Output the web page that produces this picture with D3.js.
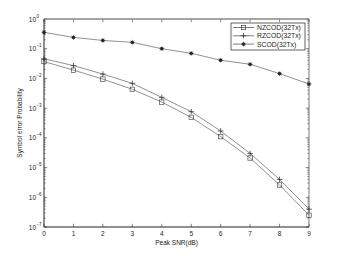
<!DOCTYPE html>
<html>
<head>
<meta charset="utf-8">
<script src="https://cdn.jsdelivr.net/npm/d3@7"></script>
<style>
  body { margin: 0; background: #fff; }
  text { font-family: "Liberation Sans", Arial, sans-serif; fill: #222; }
</style>
</head>
<body>
<div id="chart"></div>
<script>
// data
const snr = [0, 1, 2, 3, 4, 5, 6, 7, 8, 9];
const nzcod = [0.037, 0.019, 0.0095, 0.0043, 0.0016, 4.9e-4, 1.1e-4, 2.1e-5, 2.6e-6, 2.5e-7];
const rzcod = [0.046, 0.027, 0.014, 0.0068, 0.0023, 7.6e-4, 1.7e-4, 3.0e-5, 4.0e-6, 4.0e-7];
const scod  = [0.355, 0.24, 0.19, 0.164, 0.10, 0.07, 0.041, 0.030, 0.0145, 0.0065];
const seriesNames = ['NZCOD(32Tx)', 'RZCOD(32Tx)', 'SCOD(32Tx)'];
const yExps = [0, -1, -2, -3, -4, -5, -6, -7];

const width = 341, height = 256;
const margin = { top: 19, right: 32, bottom: 29, left: 44 };
const iw = width - margin.left - margin.right;
const ih = height - margin.top - margin.bottom;

const svg = d3.select('#chart').append('svg')
  .attr('width', width).attr('height', height);
const g = svg.append('g').attr('transform', `translate(${margin.left},${margin.top})`);

const x = d3.scaleLinear().domain([0, 9]).range([0, iw]);
const y = d3.scaleLog().domain([1e-7, 1]).range([ih, 0]);

// minor ticks on log axis (both sides)
const minor = [];
for (let e = -7; e < 0; e++) for (let k = 2; k <= 9; k++) minor.push(k * Math.pow(10, e));
g.selectAll('line.minorL').data(minor).join('line')
  .attr('x1', 0).attr('x2', 1.8).attr('y1', d => y(d)).attr('y2', d => y(d))
  .attr('stroke', '#444').attr('stroke-width', 0.5);
g.selectAll('line.minorR').data(minor).join('line')
  .attr('x1', iw).attr('x2', iw - 1.8).attr('y1', d => y(d)).attr('y2', d => y(d))
  .attr('stroke', '#444').attr('stroke-width', 0.5);

// major ticks
const yMaj = yExps.map(e => Math.pow(10, e));
g.selectAll('line.majL').data(yMaj).join('line')
  .attr('x1', 0).attr('x2', 3.2).attr('y1', d => y(d)).attr('y2', d => y(d))
  .attr('stroke', '#333').attr('stroke-width', 0.6);
g.selectAll('line.majR').data(yMaj).join('line')
  .attr('x1', iw).attr('x2', iw - 3.2).attr('y1', d => y(d)).attr('y2', d => y(d))
  .attr('stroke', '#333').attr('stroke-width', 0.6);
g.selectAll('line.xB').data(snr).join('line')
  .attr('x1', d => x(d)).attr('x2', d => x(d)).attr('y1', ih).attr('y2', ih - 3.2)
  .attr('stroke', '#333').attr('stroke-width', 0.6);
g.selectAll('line.xT').data(snr).join('line')
  .attr('x1', d => x(d)).attr('x2', d => x(d)).attr('y1', 0).attr('y2', 3.2)
  .attr('stroke', '#333').attr('stroke-width', 0.6);

// frame
g.append('line').attr('x1', 0).attr('x2', iw).attr('y1', 0).attr('y2', 0)
  .attr('stroke', '#888').attr('stroke-width', 1.6);
g.append('line').attr('x1', 0).attr('x2', iw).attr('y1', ih).attr('y2', ih)
  .attr('stroke', '#222').attr('stroke-width', 1);
g.append('line').attr('x1', 0).attr('x2', 0).attr('y1', 0).attr('y2', ih)
  .attr('stroke', '#222').attr('stroke-width', 1);
g.append('line').attr('x1', iw).attr('x2', iw).attr('y1', 0).attr('y2', ih)
  .attr('stroke', '#555').attr('stroke-width', 0.8);

// tick labels
g.selectAll('text.xl').data(snr).join('text')
  .attr('x', d => x(d)).attr('y', ih + 9)
  .attr('text-anchor', 'middle').attr('font-size', 6.5).text(d => d);

const yl = g.selectAll('g.yl').data(yExps).join('g')
  .attr('transform', d => `translate(-4,${y(Math.pow(10, d))})`);
yl.append('text').attr('x', -4).attr('y', 2.5).attr('text-anchor', 'end')
  .attr('font-size', 6.5).text('10');
yl.append('text').attr('x', -3.6).attr('y', -1.5).attr('text-anchor', 'start')
  .attr('font-size', 4.5).text(d => d === 0 ? '0' : '\u2212' + (-d));

// axis titles
g.append('text').attr('x', iw / 2).attr('y', ih + 17.5)
  .attr('text-anchor', 'middle').attr('font-size', 6.5).text('Peak SNR(dB)');
g.append('text')
  .attr('transform', `translate(${-22},${ih / 2}) rotate(-90)`)
  .attr('text-anchor', 'middle').attr('font-size', 6.5).text('Symbol error Probability');

// series
const series = [
  { name: seriesNames[0], vals: nzcod, marker: 'square' },
  { name: seriesNames[1], vals: rzcod, marker: 'plus' },
  { name: seriesNames[2], vals: scod, marker: 'star' }
];
const line = d3.line().x((d, i) => x(snr[i])).y(d => y(d));

function drawMarker(sel, type) {
  if (type === 'square') {
    sel.append('rect').attr('x', -2.2).attr('y', -2.2).attr('width', 4.4).attr('height', 4.4)
      .attr('fill', 'none').attr('stroke', '#333').attr('stroke-width', 0.6);
  } else if (type === 'plus') {
    sel.append('path').attr('d', 'M-2.8,0H2.8M0,-2.8V2.8')
      .attr('stroke', '#222').attr('stroke-width', 0.7);
  } else {
    sel.append('circle').attr('r', 1.6).attr('fill', '#222');
    sel.append('path').attr('d', 'M-2.5,0H2.5M0,-2.5V2.5M-1.8,-1.8L1.8,1.8M-1.8,1.8L1.8,-1.8')
      .attr('stroke', '#222').attr('stroke-width', 0.5);
  }
}

series.forEach(s => {
  g.append('path').datum(s.vals).attr('d', line)
    .attr('fill', 'none').attr('stroke', '#555').attr('stroke-width', 0.65);
  const m = g.selectAll(null).data(s.vals).join('g')
    .attr('transform', (d, i) => `translate(${x(snr[i])},${y(d)})`);
  drawMarker(m, s.marker);
});

// legend
const lg = svg.append('g').attr('transform', 'translate(231,23)');
lg.append('rect').attr('width', 74).attr('height', 27)
  .attr('fill', '#fff').attr('stroke', '#222').attr('stroke-width', 0.7);
series.forEach((s, i) => {
  const row = lg.append('g').attr('transform', `translate(0,${4.5 + i * 8.3})`);
  row.append('line').attr('x1', 2).attr('x2', 23).attr('stroke', '#444').attr('stroke-width', 0.7);
  drawMarker(row.append('g').attr('transform', 'translate(12.5,0)'), s.marker);
  row.append('text').attr('x', 26).attr('y', 2.4).attr('font-size', 6.8).text(s.name);
});
</script>
</body>
</html>
